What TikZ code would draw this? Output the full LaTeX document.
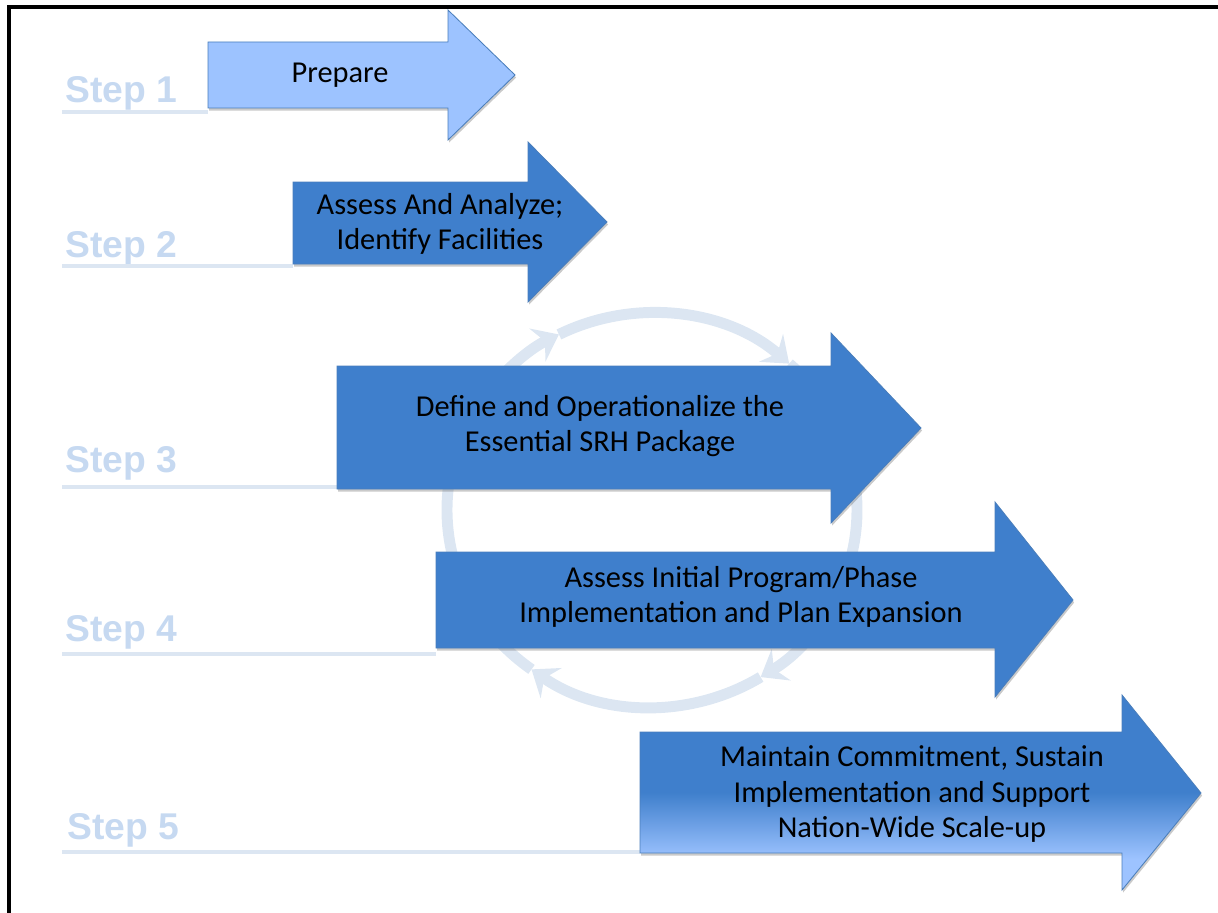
\documentclass[tikz,border=0pt]{standalone}
\usepackage{fontspec}
\setmainfont{Carlito}
\newfontfamily\stepfont{Liberation Sans}
\usetikzlibrary{arrows.meta,shadows}
\definecolor{paleblue}{RGB}{157,195,255}
\definecolor{midblue}{RGB}{63,127,204}
\definecolor{edgeblue}{RGB}{74,126,187}
\definecolor{steptext}{RGB}{198,217,241}
\definecolor{stepline}{RGB}{220,230,242}
\pgfdeclareverticalshading{fivefade}{100bp}{color(0bp)=(paleblue); color(33bp)=(paleblue); color(50bp)=(midblue); color(100bp)=(midblue)}
\begin{document}
\begin{tikzpicture}[x=0.025cm, y=-0.025cm,
		stepname/.style={anchor=base west, inner sep=0pt, text=steptext, font=\stepfont\bfseries\fontsize{26.5}{30}\selectfont},
		stepbar/.style={draw=stepline, line width=2.2pt},
		bigarrow/.style={draw=edgeblue, line width=0.6pt, line join=miter, drop shadow={shadow xshift=0.8pt, shadow yshift=-1.8pt, opacity=0.35, fill=black!60}},
		arrowtext/.style={align=center, inner sep=0pt, font=\fontsize{21.6}{25.2}\selectfont},
		cyclearc/.style={draw=stepline, line width=7.8pt, -{Stealth[length=17pt, width=26pt, inset=6pt]}}]
	\useasboundingbox (0,0) rectangle (1218,913);
	% frame
	\draw[line width=2.85pt] (9,913) -- (9,7) -- (1218,7);
	% cycle behind the arrows
	\begin{scope}[shift={(652,510)}, y=0.025cm]
		\draw[cyclearc] (117:205 and 197) arc[start angle=117, end angle=48, x radius=205, y radius=197];
		\draw[cyclearc] (48:205 and 197) arc[start angle=48, end angle=-58, x radius=205, y radius=197];
		\draw[cyclearc] (-58:205 and 197) arc[start angle=-58, end angle=-126, x radius=205, y radius=197];
		\draw[cyclearc] (-126:205 and 197) arc[start angle=-126, end angle=-243, x radius=205, y radius=197];
	\end{scope}
	% step labels
	\node[stepname] (s1) at (65,103) {Step 1};
	\node[stepname] (s2) at (65,257) {Step 2};
	\node[stepname] (s3) at (65,472) {Step 3};
	\node[stepname] (s4) at (65,641) {Step 4};
	\node[stepname] (s5) at (67,839) {Step 5};
	\draw[stepbar] (62,112) -- (208,112);
	\draw[stepbar] (62,266) -- (293,266);
	\draw[stepbar] (62,487) -- (337,487);
	\draw[stepbar] (62,654) -- (436,654);
	\draw[stepbar] (62,852) -- (640,852);
	% arrows
	\path[bigarrow, fill=paleblue] (208,42) -- (448,42) -- (448,10) -- (515,75) -- (448,140) -- (448,108) -- (208,108) -- cycle;
	\path[bigarrow, fill=midblue] (293,182) -- (528,182) -- (528,142) -- (607,222) -- (528,302) -- (528,264) -- (293,264) -- cycle;
	\path[bigarrow, fill=midblue] (337,366) -- (831,366) -- (831,333) -- (921,428) -- (831,523) -- (831,489) -- (337,489) -- cycle;
	\path[bigarrow, fill=midblue] (436,552) -- (995,552) -- (995,502) -- (1073,600) -- (995,697) -- (995,648) -- (436,648) -- cycle;
	\path[bigarrow, shading=fivefade] (640,732) -- (1122,732) -- (1122,695) -- (1201,793) -- (1122,890) -- (1122,853) -- (640,853) -- cycle;
	\node[arrowtext] (prep) at (340,75) {Prepare};
	\node[arrowtext] (assess) at (440,224) {Assess And Analyze;\\Identify Facilities};
	\node[arrowtext] (define) at (600,426) {Define and Operationalize the\\Essential SRH Package};
	\node[arrowtext] (review) at (741,597) {Assess Initial Program/Phase\\Implementation and Plan Expansion};
	\node[arrowtext] (sustain) at (912,794) {Maintain Commitment, Sustain\\Implementation and Support\\Nation-Wide Scale-up};
\end{tikzpicture}
\end{document}
